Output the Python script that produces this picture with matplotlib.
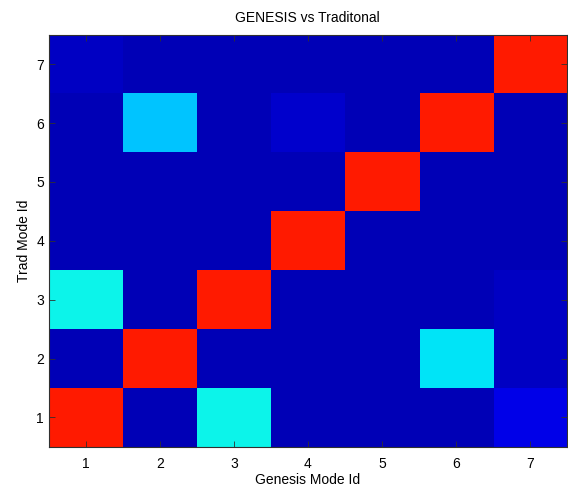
import matplotlib.pyplot as plt
import numpy as np

# mode ids on both axes
genesis_ids = [1, 2, 3, 4, 5, 6, 7]
trad_ids = [1, 2, 3, 4, 5, 6, 7]

# rows = trad mode 1..7, columns = genesis mode 1..7
match = np.array([
    [0.88, 0.05, 0.365, 0.05, 0.05, 0.05, 0.09],
    [0.05, 0.88, 0.05, 0.05, 0.05, 0.35, 0.06],
    [0.365, 0.05, 0.88, 0.05, 0.05, 0.05, 0.06],
    [0.05, 0.05, 0.05, 0.88, 0.05, 0.05, 0.05],
    [0.05, 0.05, 0.05, 0.05, 0.88, 0.05, 0.05],
    [0.05, 0.32, 0.05, 0.07, 0.05, 0.88, 0.05],
    [0.06, 0.05, 0.05, 0.05, 0.05, 0.05, 0.88],
])

plt.rcParams['font.family'] = ['Liberation Sans', 'DejaVu Sans']

fig = plt.figure(figsize=(5.68, 4.9), dpi=100)
ax = fig.add_axes([0.086, 0.088, 0.912, 0.841])

ax.imshow(match, cmap='jet', vmin=0, vmax=1, origin='lower', aspect='auto',
          interpolation='nearest',
          extent=[genesis_ids[0] - 0.5, genesis_ids[-1] + 0.5,
                  trad_ids[0] - 0.5, trad_ids[-1] + 0.5])

ax.set_xticks(genesis_ids)
ax.set_yticks(trad_ids)
ax.tick_params(direction='in', top=True, right=True, length=4, width=0.6,
               color='#303030', labelsize=10)
ax.tick_params(axis='x', pad=7)
for s in ax.spines.values():
    s.set_color('#303030')
    s.set_linewidth(0.8)

ax.set_title('GENESIS vs Traditonal', fontsize=10, pad=9)
ax.set_xlabel('Genesis Mode Id', fontsize=10, labelpad=2)
ax.set_ylabel('Trad Mode Id', fontsize=10, labelpad=4)

fig.savefig('out.png', dpi=100)
